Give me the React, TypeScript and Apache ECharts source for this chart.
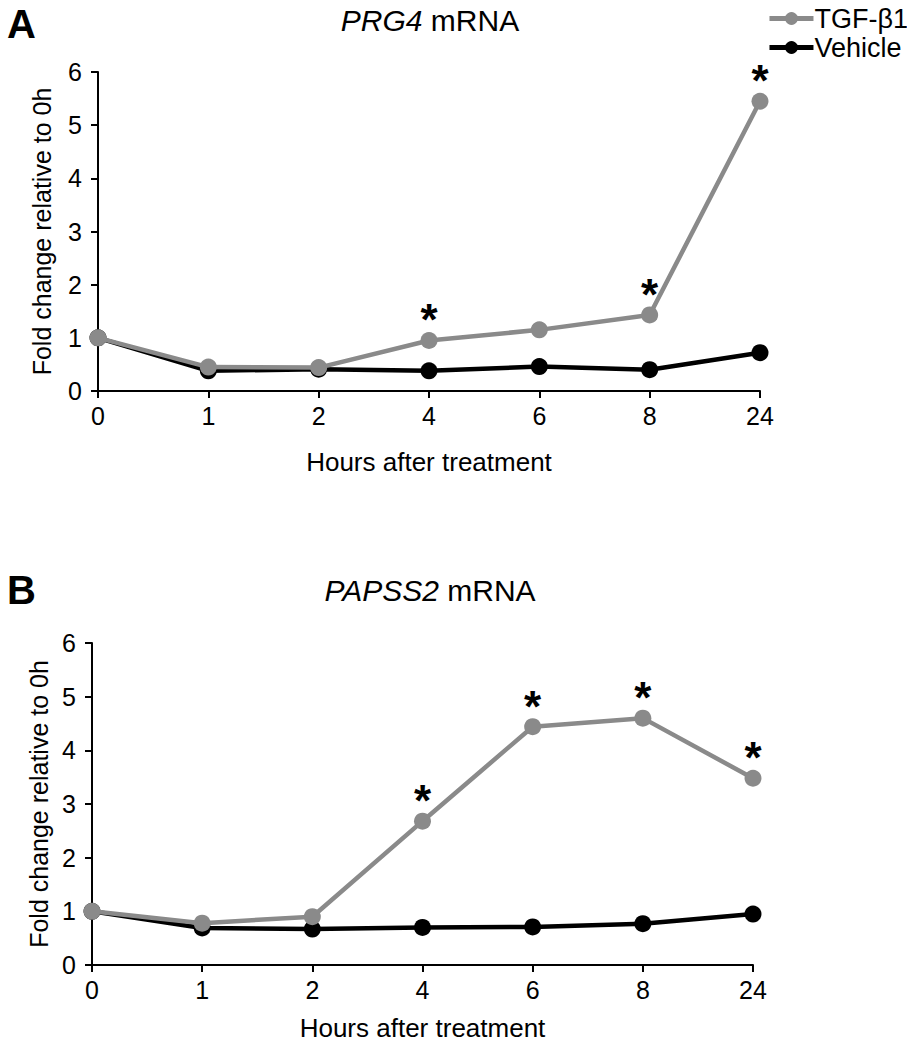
import React, { useEffect, useRef } from "react";
import * as echarts from "echarts";

const hours = ["0", "1", "2", "4", "6", "8", "24"];
const yTicks = [0, 1, 2, 3, 4, 5, 6];

const prg4Tgf = [1.0, 0.45, 0.44, 0.95, 1.15, 1.43, 5.45];
const prg4Vehicle = [1.0, 0.38, 0.41, 0.38, 0.46, 0.4, 0.72];
const prg4Sig = [false, false, false, true, false, true, true];

const papss2Tgf = [1.0, 0.78, 0.9, 2.68, 4.44, 4.6, 3.48];
const papss2Vehicle = [1.0, 0.69, 0.67, 0.7, 0.71, 0.77, 0.95];
const papss2Sig = [false, false, false, true, true, true, true];

const GRAY = "#8a8a8a";
const BLACK = "#000000";
const FONT = "Liberation Sans, Arial, sans-serif";

export default function App() {
  const ref = useRef<HTMLDivElement>(null);
  useEffect(() => {
    if (!ref.current) return;
    const chart = echarts.init(ref.current, null, { renderer: "svg" });

    const xAxisBase = (gridIndex: number, nameGap: number) => ({
      type: "category",
      gridIndex,
      data: hours,
      boundaryGap: false,
      name: "Hours after treatment",
      nameLocation: "middle",
      nameGap,
      nameTextStyle: { fontSize: 26, color: BLACK, fontFamily: FONT },
      axisLine: { lineStyle: { color: BLACK, width: 2 } },
      axisTick: { alignWithLabel: true, length: 7, lineStyle: { color: BLACK, width: 2 } },
      axisLabel: { fontSize: 25, color: BLACK, margin: 12, fontFamily: FONT },
      splitLine: { show: false },
    });
    const yAxisBase = (gridIndex: number, nameGap: number) => ({
      type: "value",
      gridIndex,
      min: yTicks[0],
      max: yTicks[yTicks.length - 1],
      interval: 1,
      name: "Fold change relative to 0h",
      nameLocation: "middle",
      nameGap,
      nameTextStyle: { fontSize: 25, color: BLACK, fontFamily: FONT },
      axisLine: { show: true, lineStyle: { color: BLACK, width: 2 } },
      axisTick: { show: true, length: 7, lineStyle: { color: BLACK, width: 2 } },
      axisLabel: { fontSize: 25, color: BLACK, margin: 16, fontFamily: FONT },
      splitLine: { show: false },
    });

    const sigData = (vals: number[], sig: boolean[]) =>
      vals.map((v, i) =>
        sig[i]
          ? {
              value: v,
              label: {
                show: true,
                position: "top",
                distance: -10,
                formatter: "*",
                fontSize: 44,
                fontWeight: "bold",
                color: BLACK,
                fontFamily: FONT,
              },
            }
          : v
      );

    const lineSeries = (name: string, color: string, data: any[], idx: number, z: number) => ({
      name,
      type: "line",
      xAxisIndex: idx,
      yAxisIndex: idx,
      data,
      symbol: "circle",
      symbolSize: 17,
      z,
      lineStyle: { color, width: 4.5 },
      itemStyle: { color },
      label: { show: false },
    });

    chart.setOption({
      animation: false,
      backgroundColor: "#ffffff",
      textStyle: { fontFamily: FONT },
      legend: {
        orient: "vertical",
        right: -6,
        top: 0,
        itemWidth: 44,
        itemHeight: 16,
        itemGap: 2,
        lineStyle: { width: 5 },
        textStyle: { fontSize: 27, color: BLACK, fontFamily: FONT, padding: [0, 0, 0, -4] },
        data: ["TGF-β1", "Vehicle"],
      },
      grid: [
        { left: 98, right: 147, top: 72, height: 319 },
        { left: 92, right: 154, top: 643, height: 322 },
      ],
      xAxis: [xAxisBase(0, 58), xAxisBase(1, 50)],
      yAxis: [yAxisBase(0, 44), yAxisBase(1, 40)],
      series: [
        lineSeries("Vehicle", BLACK, prg4Vehicle, 0, 2),
        lineSeries("TGF-β1", GRAY, sigData(prg4Tgf, prg4Sig), 0, 3),
        lineSeries("Vehicle", BLACK, papss2Vehicle, 1, 2),
        lineSeries("TGF-β1", GRAY, sigData(papss2Tgf, papss2Sig), 1, 3),
      ],
      graphic: [
        {
          type: "text",
          left: 7,
          top: 4,
          style: { text: "A", fontSize: 40, fontWeight: "bold", fill: BLACK, fontFamily: FONT },
        },
        {
          type: "text",
          left: 7,
          top: 570,
          style: { text: "B", fontSize: 40, fontWeight: "bold", fill: BLACK, fontFamily: FONT },
        },
        {
          type: "text",
          x: 430,
          y: 20,
          style: {
            text: "{i|PRG4} mRNA",
            align: "center",
            verticalAlign: "middle",
            fontSize: 30,
            fill: BLACK,
            fontFamily: FONT,
            rich: { i: { fontStyle: "italic", fontSize: 30, fontFamily: FONT } },
          },
        },
        {
          type: "text",
          x: 430,
          y: 590,
          style: {
            text: "{i|PAPSS2} mRNA",
            align: "center",
            verticalAlign: "middle",
            fontSize: 30,
            fill: BLACK,
            fontFamily: FONT,
            rich: { i: { fontStyle: "italic", fontSize: 30, fontFamily: FONT } },
          },
        },
      ],
    });
    return () => chart.dispose();
  }, []);
  return (
    <div
      ref={ref}
      style={{ position: "fixed", left: 0, top: 0, width: 907, height: 1050, background: "#fff" }}
    />
  );
}
